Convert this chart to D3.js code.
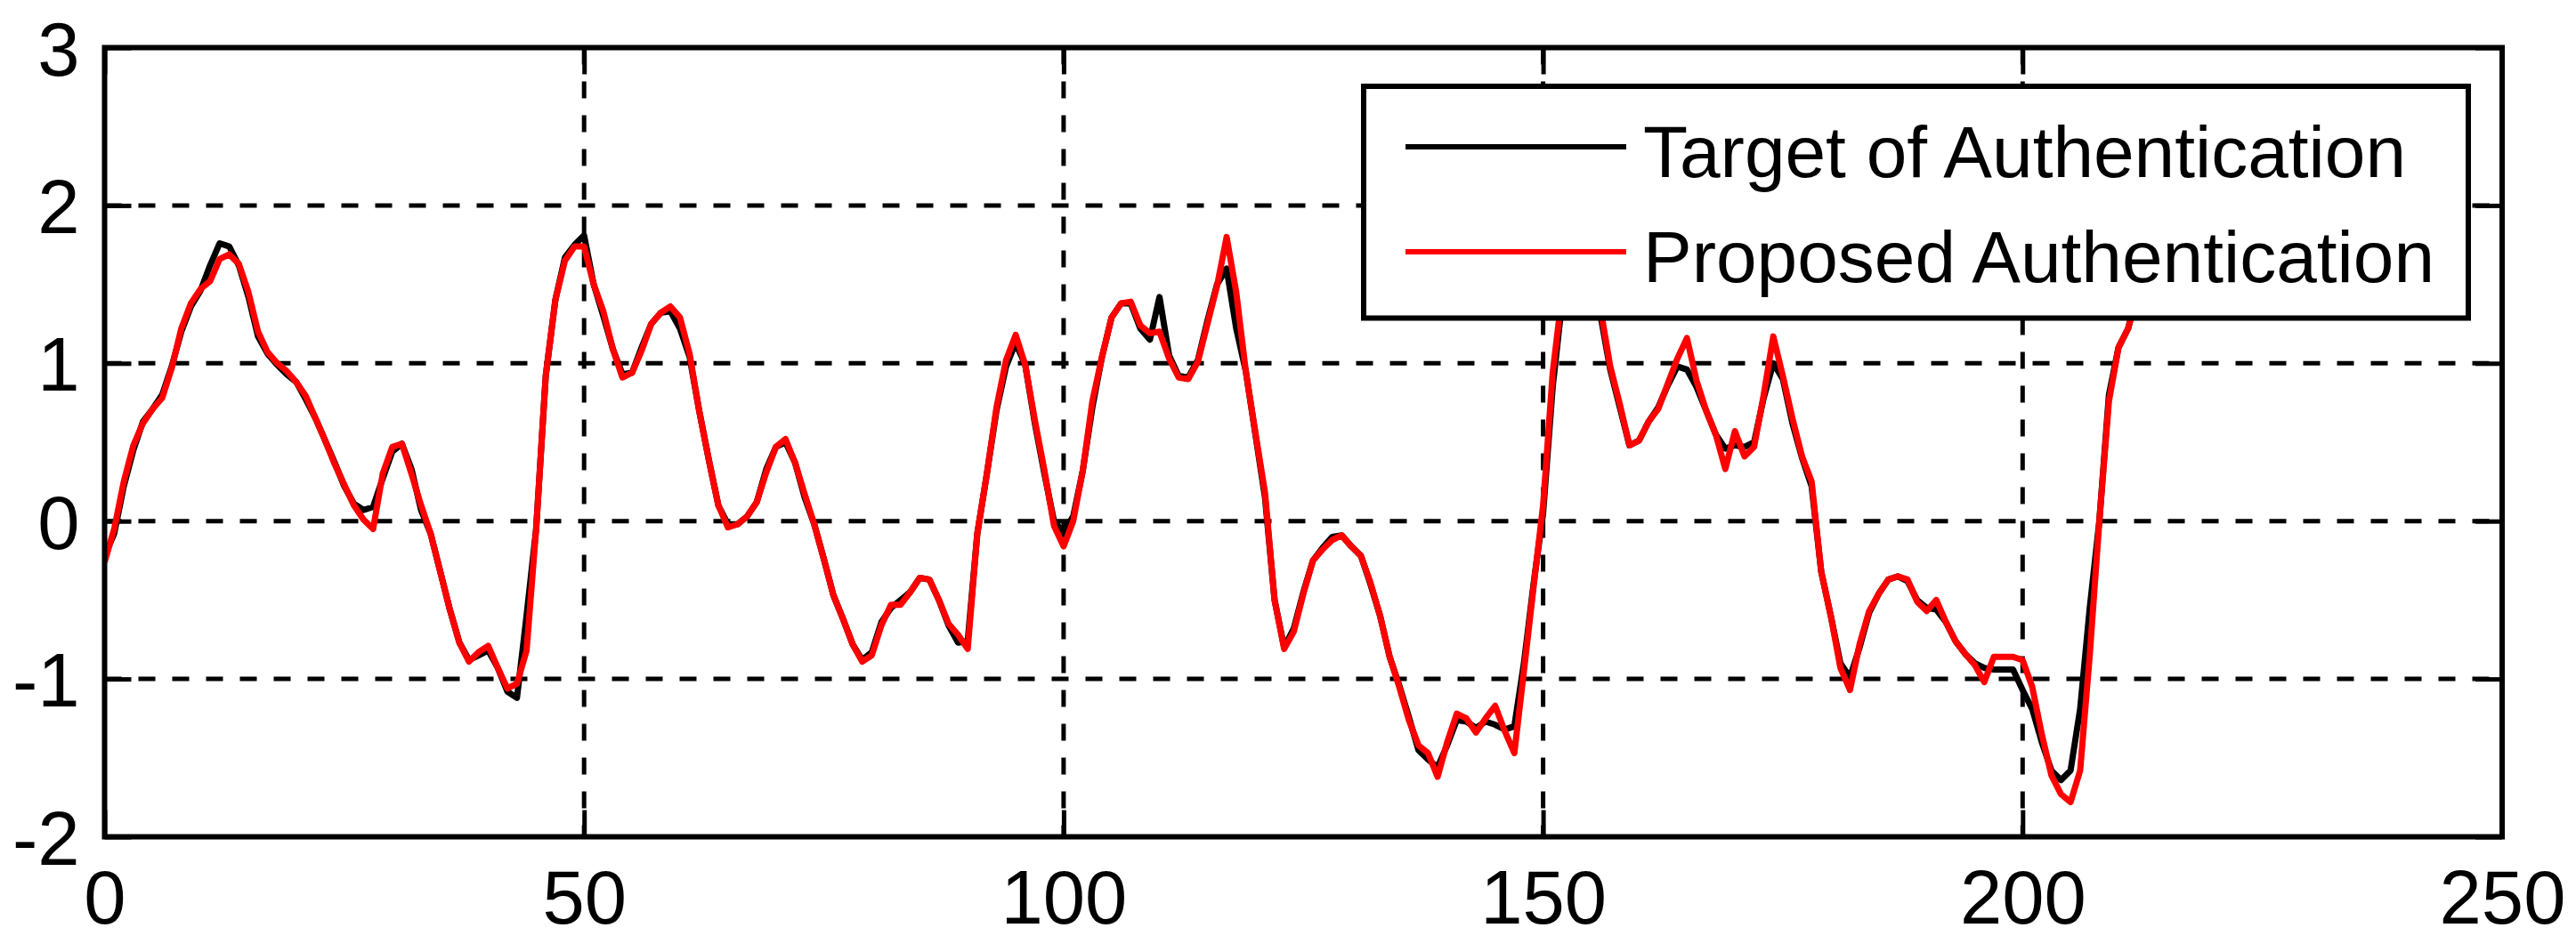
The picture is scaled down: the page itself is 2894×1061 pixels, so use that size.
<!DOCTYPE html>
<html>
<head>
<meta charset="utf-8">
<script src="https://cdn.jsdelivr.net/npm/d3@7"></script>
<style>
  html, body { margin: 0; padding: 0; background: #fff; }
  svg { display: block; }
  text { font-family: "Liberation Sans", Arial, Helvetica, sans-serif; fill: #000; }
</style>
</head>
<body>
<svg id="chart" width="2894" height="1061"></svg>
<script>
// ---------------- data ----------------
const xTicks = [0, 50, 100, 150, 200, 250];
const yTicks = [-2, -1, 0, 1, 2, 3];
const seriesNames = ["Target of Authentication", "Proposed Authentication"];
const seriesColors = ["#000000", "#ff0000"];

// sample index (0..213)
const sampleIndex = d3.range(0, 214);

const target = [
  -0.22, -0.08, 0.22, 0.45, 0.63, 0.71, 0.80, 0.98, 1.20, 1.36,
  1.46, 1.62, 1.76, 1.74, 1.62, 1.42, 1.17, 1.06, 0.99, 0.93,
  0.88, 0.77, 0.65, 0.51, 0.37, 0.22, 0.11, 0.07, 0.09, 0.27,
  0.44, 0.49, 0.33, 0.07, -0.08, -0.32, -0.56, -0.77, -0.88, -0.85,
  -0.82, -0.93, -1.08, -1.12, -0.60, -0.05, 0.92, 1.40, 1.67, 1.75,
  1.81, 1.50, 1.30, 1.09, 0.93, 0.94, 1.10, 1.25, 1.32, 1.33,
  1.22, 1.04, 0.70, 0.39, 0.10, -0.02, -0.02, 0.03, 0.12, 0.33,
  0.47, 0.50, 0.37, 0.15, -0.02, -0.24, -0.47, -0.62, -0.78, -0.88,
  -0.83, -0.64, -0.55, -0.50, -0.45, -0.36, -0.37, -0.50, -0.66, -0.77,
  -0.76, -0.08, 0.30, 0.70, 0.98, 1.13, 0.99, 0.62, 0.30, 0.00,
  -0.07, 0.03, 0.32, 0.72, 1.04, 1.29, 1.38, 1.38, 1.22, 1.15,
  1.42, 1.05, 0.92, 0.91, 1.02, 1.27, 1.50, 1.60, 1.22, 0.95,
  0.55, 0.15, -0.50, -0.80, -0.68, -0.45, -0.25, -0.17, -0.10, -0.09,
  -0.16, -0.22, -0.40, -0.60, -0.86, -1.04, -1.24, -1.45, -1.51, -1.56,
  -1.42, -1.26, -1.27, -1.31, -1.27, -1.29, -1.32, -1.30, -0.90, -0.40,
  0.05, 0.85, 1.40, 1.58, 1.63, 1.55, 1.30, 0.96, 0.72, 0.48,
  0.51, 0.63, 0.72, 0.86, 0.98, 0.96, 0.85, 0.70, 0.55, 0.46,
  0.48, 0.47, 0.50, 0.78, 1.00, 0.90, 0.62, 0.40, 0.22, -0.32,
  -0.60, -0.90, -0.99, -0.80, -0.58, -0.46, -0.37, -0.35, -0.38, -0.50,
  -0.55, -0.56, -0.64, -0.76, -0.84, -0.90, -0.93, -0.94, -0.94, -0.94,
  -1.07, -1.19, -1.40, -1.58, -1.64, -1.58, -1.19, -0.55, 0.00, 0.80,
  1.10, 1.22, 1.45, 1.65
];

const proposed = [
  -0.26, -0.05, 0.25, 0.48, 0.62, 0.71, 0.78, 0.97, 1.22, 1.38,
  1.47, 1.52, 1.66, 1.69, 1.63, 1.45, 1.20, 1.07, 1.00, 0.95,
  0.88, 0.79, 0.65, 0.51, 0.36, 0.23, 0.10, 0.01, -0.05, 0.30,
  0.47, 0.49, 0.30, 0.10, -0.08, -0.32, -0.56, -0.77, -0.89, -0.83,
  -0.79, -0.93, -1.06, -1.03, -0.82, -0.05, 0.92, 1.40, 1.65, 1.74,
  1.74, 1.50, 1.33, 1.09, 0.91, 0.94, 1.08, 1.25, 1.32, 1.36,
  1.29, 1.06, 0.70, 0.39, 0.10, -0.04, -0.02, 0.03, 0.12, 0.31,
  0.47, 0.52, 0.37, 0.17, -0.02, -0.24, -0.47, -0.62, -0.78, -0.89,
  -0.85, -0.66, -0.53, -0.53, -0.45, -0.36, -0.37, -0.50, -0.65, -0.72,
  -0.81, -0.08, 0.30, 0.72, 1.02, 1.18, 0.99, 0.64, 0.32, -0.03,
  -0.16, 0.00, 0.32, 0.76, 1.04, 1.29, 1.38, 1.39, 1.24, 1.19,
  1.20, 1.03, 0.91, 0.90, 1.01, 1.25, 1.49, 1.80, 1.45, 0.95,
  0.56, 0.18, -0.50, -0.81, -0.70, -0.46, -0.25, -0.18, -0.12, -0.09,
  -0.16, -0.22, -0.39, -0.60, -0.86, -1.05, -1.26, -1.42, -1.47, -1.62,
  -1.40, -1.22, -1.25, -1.34, -1.25, -1.17, -1.33, -1.47, -0.95, -0.42,
  0.10, 0.94, 1.45, 1.60, 1.65, 1.55, 1.34, 0.98, 0.74, 0.48,
  0.51, 0.63, 0.71, 0.87, 1.03, 1.16, 0.89, 0.70, 0.55, 0.33,
  0.57, 0.41, 0.47, 0.80, 1.17, 0.92, 0.65, 0.41, 0.25, -0.32,
  -0.60, -0.93, -1.07, -0.78, -0.57, -0.46, -0.37, -0.35, -0.37, -0.51,
  -0.57, -0.50, -0.64, -0.76, -0.84, -0.91, -1.02, -0.86, -0.86, -0.86,
  -0.88, -1.05, -1.35, -1.61, -1.73, -1.78, -1.58, -0.85, 0.00, 0.76,
  1.10, 1.22, 1.45, 1.65
];

// ---------------- layout ----------------
const W = 2894, H = 1061;
const plot = { left: 117.5, right: 2811, top: 53.5, bottom: 940.5 };
const FONT = 85;

const svg = d3.select("#chart");
svg.append("rect").attr("width", W).attr("height", H).attr("fill", "#fff");

const x = d3.scaleLinear().domain([0, 250]).range([plot.left, plot.right]);
const y = d3.scaleLinear().domain([-2, 3]).range([plot.bottom, plot.top]);

// grid lines
const grid = svg.append("g").attr("stroke", "#000").attr("stroke-width", 5)
  .attr("stroke-dasharray", "19,19").attr("fill", "none");
grid.selectAll("line.gx").data(xTicks.filter(d => d > 0 && d < 250)).join("line")
  .attr("class", "gx")
  .attr("x1", d => x(d)).attr("x2", d => x(d))
  .attr("y1", plot.top).attr("y2", plot.bottom);
grid.selectAll("line.gy").data(yTicks.filter(d => d > -2 && d < 3)).join("line")
  .attr("class", "gy")
  .attr("y1", d => y(d)).attr("y2", d => y(d))
  .attr("x1", plot.left).attr("x2", plot.right);

// axes (ticks inward, on all four sides)
const TL = 30;
const plain = d => String(d);   // hyphen-minus, as in the reference
const axB = d3.axisBottom(x).tickValues(xTicks).tickSizeInner(-TL).tickSizeOuter(0).tickPadding(40).tickFormat(plain);
const axT = d3.axisTop(x).tickValues(xTicks).tickSizeInner(-TL).tickSizeOuter(0).tickFormat("");
const axL = d3.axisLeft(y).tickValues(yTicks).tickSizeInner(-TL).tickSizeOuter(0).tickPadding(28).tickFormat(plain);
const axR = d3.axisRight(y).tickValues(yTicks).tickSizeInner(-TL).tickSizeOuter(0).tickFormat("");

function styleAxis(g) {
  g.select(".domain").remove();
  g.selectAll(".tick line").attr("stroke", "#000").attr("stroke-width", 5);
  g.selectAll(".tick text").attr("font-size", FONT)
    .attr("font-family", "'Liberation Sans', Arial, sans-serif").attr("fill", "#000");
}
svg.append("g").attr("transform", `translate(0,${plot.bottom})`).call(axB).call(styleAxis)
  .selectAll(".tick text").attr("dy", null)
  .attr("dominant-baseline", "alphabetic").attr("y", 97);
svg.append("g").attr("transform", `translate(0,${plot.top})`).call(axT).call(styleAxis);
svg.append("g").attr("transform", `translate(${plot.left},0)`).call(axL).call(styleAxis)
  .selectAll(".tick text").attr("dy", "0.36em");
svg.append("g").attr("transform", `translate(${plot.right},0)`).call(axR).call(styleAxis);

// data lines
svg.append("clipPath").attr("id", "clip").append("rect")
  .attr("x", plot.left).attr("y", plot.top)
  .attr("width", plot.right - plot.left).attr("height", plot.bottom - plot.top);

const line = d3.line().x(d => x(d[0])).y(d => y(d[1]));
const seriesData = [target, proposed];
seriesData.forEach((vals, i) => {
  svg.append("path")
    .datum(sampleIndex.map((s, k) => [s, vals[k]]))
    .attr("clip-path", "url(#clip)")
    .attr("fill", "none")
    .attr("stroke", seriesColors[i])
    .attr("stroke-width", 7)
    .attr("stroke-linejoin", "round")
    .attr("d", line);
});

// frame
svg.append("rect")
  .attr("x", plot.left).attr("y", plot.top)
  .attr("width", plot.right - plot.left).attr("height", plot.bottom - plot.top)
  .attr("fill", "none").attr("stroke", "#000").attr("stroke-width", 6);

// legend
const leg = { x0: 1532, x1: 2773, y0: 97, y1: 357.5 };
const lg = svg.append("g");
lg.append("rect").attr("x", leg.x0).attr("y", leg.y0)
  .attr("width", leg.x1 - leg.x0).attr("height", leg.y1 - leg.y0)
  .attr("fill", "#fff").attr("stroke", "#000").attr("stroke-width", 6);
const rowY = [165, 283];
seriesNames.forEach((name, i) => {
  lg.append("line").attr("x1", 1579).attr("x2", 1827)
    .attr("y1", rowY[i]).attr("y2", rowY[i])
    .attr("stroke", seriesColors[i]).attr("stroke-width", 6);
  lg.append("text").attr("x", 1846).attr("y", rowY[i] + 34)
    .attr("font-size", 82).text(name);
});
</script>
</body>
</html>
